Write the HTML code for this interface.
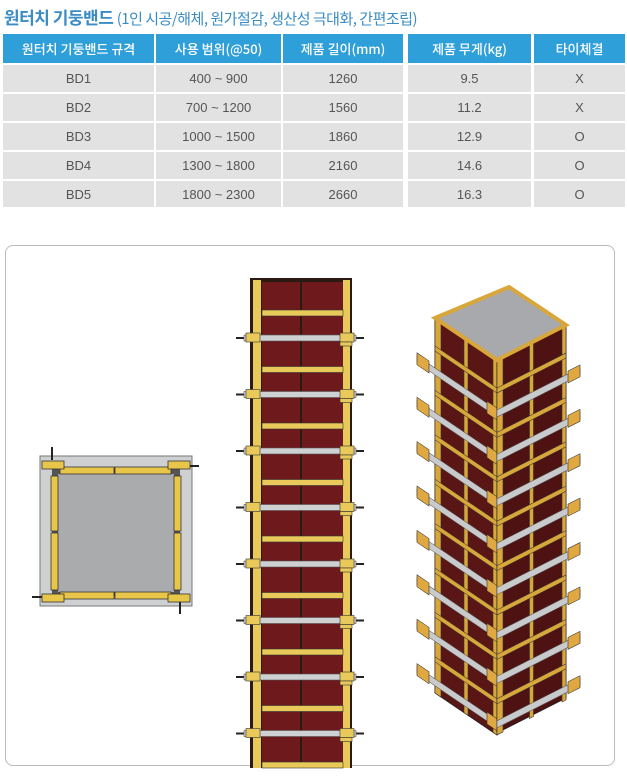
<!DOCTYPE html>
<html><head><meta charset="utf-8"><style>
*{margin:0;padding:0;box-sizing:border-box}
body{width:627px;height:777px;background:#fff;position:relative;overflow:hidden;font-family:"Liberation Sans","Noto Sans CJK KR",sans-serif}
.t{position:absolute;left:4px;top:4px;font-size:17px;font-weight:bold;color:#3a8cc4;letter-spacing:-0.5px;font-family:"Noto Sans CJK KR",sans-serif}
.t span{font-weight:normal;font-size:15px}
.c{position:absolute;display:flex;align-items:center;justify-content:center;font-size:13px;color:#555}
.h{background:#2e9fd9;color:#fff;font-family:"Noto Sans CJK KR",sans-serif;font-weight:500}
.r{background:#e2e2e3}
.box{position:absolute;left:5px;top:245px;width:610px;height:521px;border:1px solid #bbb;border-radius:8px}
</style></head><body>
<div class="t">원터치 기둥밴드 <span>(1인 시공/해체, 원가절감, 생산성 극대화, 간편조립)</span></div>
<div id="tbl"></div>
<div class="box"></div>
<script>
var cols=[[3,151],[156,125],[283,120],[408,123],[534,91]];
var rows=[[34,29],[65,27],[94,27],[123,27],[152,27],[181,26]];
var data=[["원터치 기둥밴드 규격","사용 범위(@50)","제품 길이(mm)","제품 무게(kg)","타이체결"],
["BD1","400 ~ 900","1260","9.5","X"],["BD2","700 ~ 1200","1560","11.2","X"],
["BD3","1000 ~ 1500","1860","12.9","O"],["BD4","1300 ~ 1800","2160","14.6","O"],["BD5","1800 ~ 2300","2660","16.3","O"]];
var h="";
rows.forEach(function(r,i){cols.forEach(function(c,j){
h+='<div class="c '+(i?'r':'h')+'" style="left:'+c[0]+'px;top:'+r[0]+'px;width:'+c[1]+'px;height:'+r[1]+'px">'+data[i][j]+'</div>';});});
document.getElementById('tbl').innerHTML=h;
</script>
<svg style="position:absolute;left:0;top:0" width="627" height="777">
<!-- plan view -->
<rect x="40" y="456" width="152" height="150" fill="#cfd0d2" stroke="#777"/>
<rect x="52" y="468" width="128" height="128" fill="#555"/>
<rect x="58" y="474" width="116" height="118" fill="#a9abad"/>
<g fill="#e8c64a" stroke="#333" stroke-width="0.8">
<rect x="60" y="467" width="54" height="7"/><rect x="115" y="467" width="56" height="7"/>
<rect x="60" y="592" width="54" height="7"/><rect x="115" y="592" width="56" height="7"/>
<rect x="51" y="476" width="7" height="55"/><rect x="51" y="533" width="7" height="57"/>
<rect x="174" y="476" width="7" height="55"/><rect x="174" y="533" width="7" height="57"/>
<rect x="42" y="461" width="22" height="8"/><rect x="168" y="461" width="22" height="8"/>
<rect x="42" y="594" width="22" height="8"/><rect x="168" y="594" width="22" height="8"/>
</g>
<g stroke="#222" stroke-width="2"><line x1="52" y1="447" x2="52" y2="460"/><line x1="190" y1="466" x2="199" y2="466"/><line x1="32" y1="597" x2="42" y2="597"/><line x1="180" y1="602" x2="180" y2="614"/></g>
<!-- middle column -->
<rect x="250" y="278" width="102" height="490" fill="#2b1a12"/>
<rect x="262" y="282" width="81" height="486" fill="#6e1a1c"/>
<rect x="300" y="282" width="2" height="486" fill="#2b1a12"/>
<rect x="253" y="280" width="8" height="488" fill="#e8c95a"/>
<rect x="343" y="280" width="7" height="488" fill="#e8c95a"/>
<g id="mid"></g>
<!-- 3D column -->
<g transform="translate(435,318) skewY(34.1)">
<rect x="0" y="0" width="62" height="375" fill="#5a1515" stroke="#222"/>
<g id="lf"></g></g>
<g transform="translate(497,360) skewY(-26.9)">
<rect x="0" y="0" width="69" height="373" fill="#4e1212" stroke="#222"/>
<g id="rf"></g></g>
<polygon points="435,318 509,287 566,325 497,360" fill="#a7a9ac" stroke="#d9a63a" stroke-width="4"/>
</svg>
<script>
var ns="http://www.w3.org/2000/svg";
function R(g,x,y,w,h,f,s){var r=document.createElementNS(ns,"rect");r.setAttribute("x",x);r.setAttribute("y",y);r.setAttribute("width",w);r.setAttribute("height",h);r.setAttribute("fill",f);if(s){r.setAttribute("stroke",s);r.setAttribute("stroke-width","0.6");}g.appendChild(r);}
var m=document.getElementById("mid");
for(var k=0;k<9;k++){var y=310+56.5*k;R(m,262,y,81,6,"#e8c95a","#333");}
for(k=0;k<8;k++){var y=337+56.5*k;
R(m,236,y,10,2,"#222");R(m,356,y,8,2,"#222");
R(m,244,y-2,112,6,"#cfd0d2","#555");
R(m,246,y-4,14,9,"#e8c95a","#333");R(m,340,y-4,14,9,"#e8c95a","#333");
R(m,340,y+5,12,4,"#e8c95a","#333");}
function face(g,w,left){
R(g,0,0,6,375,"#d9a63a","#333");R(g,w-4,0,4,375,"#d9a63a","#333");R(g,w/2-2,0,4,375,"#d9a63a","#333");
for(var k=0;k<8;k++){var y=28+44.4*k;R(g,0,y,w,5,"#d9a63a","#333");}
for(k=0;k<8;k++){var y=50+44.4*k;
if(left){R(g,-18,y,w+18,7,"#c9cacc","#555");R(g,-18,y-3,12,12,"#e0a840","#333");R(g,w-10,y-2,12,12,"#e0a840","#333");}
else{R(g,0,y,w+14,7,"#c9cacc","#555");R(g,w+2,y-3,12,12,"#e0a840","#333");}}
}
face(document.getElementById("lf"),62,true);
face(document.getElementById("rf"),69,false);
</script>
</body></html>
